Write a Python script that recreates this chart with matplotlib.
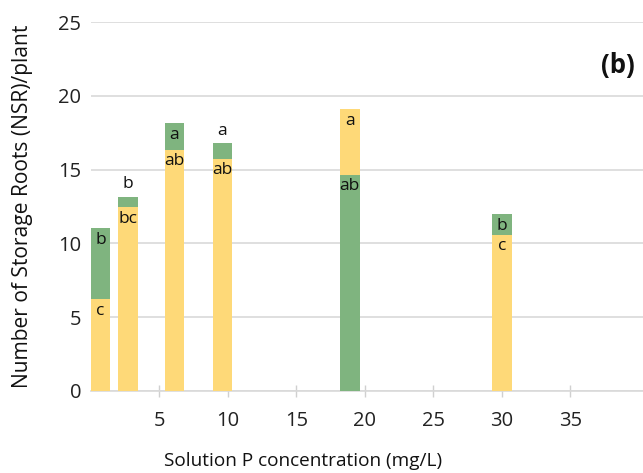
import matplotlib
matplotlib.use("Agg")
import matplotlib.pyplot as plt

plt.rcParams["font.family"] = ["Open Sans", "DejaVu Sans"]

conc = [0.7, 2.7, 6.1, 9.6, 18.9, 30.0]
nsr_green = [11.05, 13.15, 18.15, 16.8, 14.65, 12.0]
nsr_yellow = [6.2, 12.45, 16.35, 15.75, 19.1, 10.6]
let_green = ["b", "b", "a", "a", "ab", "b"]
let_yellow = ["c", "bc", "ab", "ab", "a", "c"]

GREEN = "#7fb47f"
YELLOW = "#fed978"
W = 1.43

fig = plt.figure(figsize=(6.43, 4.73), dpi=100)
ax = fig.add_axes([0.1415, 0.1734, 0.8585, 0.78])

for x, g, y, lg, ly in zip(conc, nsr_green, nsr_yellow, let_green, let_yellow):
    bars = [(g, GREEN, lg), (y, YELLOW, ly)]
    bars.sort(key=lambda b: -b[0])  # taller behind
    (hi, chi, lhi), (lo, clo, llo) = bars
    ax.bar(x, hi, width=W, color=chi, zorder=2)
    ax.bar(x, lo, width=W, color=clo, zorder=3)
    # tall bar letter: inside if the visible band is big enough, else above
    if hi - lo > 1.3:
        ax.text(x, hi - 0.25, lhi, ha="center", va="top", fontsize=12.5,
                color="#111111", zorder=4)
    else:
        ax.text(x, hi + 0.3, lhi, ha="center", va="bottom", fontsize=12.5,
                color="#111111", zorder=4)
    ax.text(x, lo - 0.25, llo, ha="center", va="top", fontsize=12.5,
            color="#111111", zorder=4)

ax.set_xlim(0, 40.3)
ax.set_ylim(0, 25)
ax.set_yticks([0, 5, 10, 15, 20, 25])
ax.set_xticks([5, 10, 15, 20, 25, 30, 35])
ax.grid(axis="y", color="#d9d9d9", lw=1.2, zorder=0)
for s in ("left", "right", "top"):
    ax.spines[s].set_visible(False)
ax.spines["bottom"].set_color("#d9d9d9")
ax.spines["bottom"].set_linewidth(1.2)
ax.tick_params(axis="y", length=0, pad=7, labelsize=14.5, labelcolor="#222222")
ax.tick_params(axis="x", direction="inout", length=9, width=1, color="#d0d0d0",
               pad=10, labelsize=14.5, labelcolor="#222222")

ax.set_ylabel("Number of Storage Roots (NSR)/plant", fontsize=15.1, color="#111111")
ax.set_xlabel("Solution P concentration (mg/L)", fontsize=13.7, color="#111111")
ax.yaxis.set_label_coords(-0.105, 0.5)
ax.xaxis.set_label_coords(0.384, -0.165)

ax.text(0.985, 0.883, "(b)", transform=ax.transAxes, ha="right", va="center",
        fontsize=18.5, fontweight="bold", color="#111111")

fig.savefig("out.png", dpi=100)
